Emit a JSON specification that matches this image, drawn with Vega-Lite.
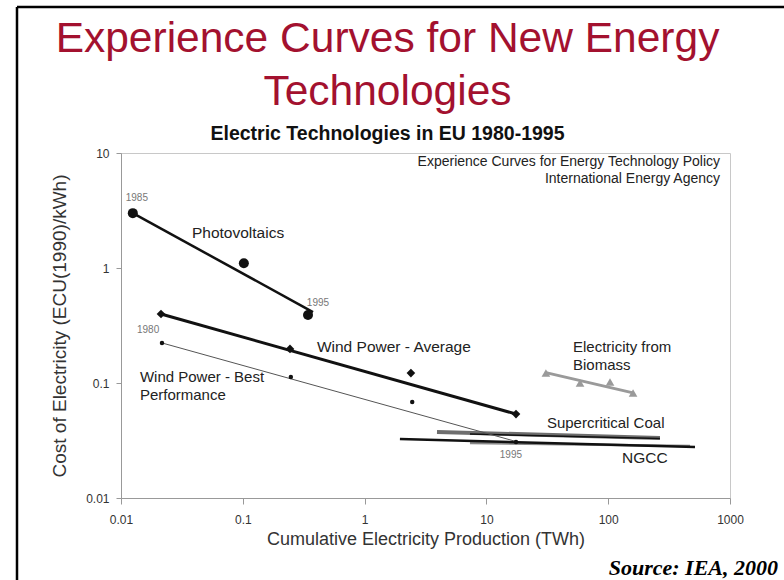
{
  "$schema": "https://vega.github.io/schema/vega-lite/v6.json",
  "width": 609,
  "height": 345,
  "autosize": {"type": "none"},
  "padding": {"left": 121, "top": 153, "right": 54, "bottom": 82},
  "background": "white",
  "view": {"stroke": "#c8c8c8", "strokeWidth": 1},
  "title": {
    "text": ["Experience Curves for New Energy", "Technologies"],
    "subtitle": "Electric Technologies in EU 1980-1995",
    "anchor": "middle",
    "frame": "group",
    "dx": -38,
    "dy": 141.5,
    "offset": 4,
    "font": "Liberation Sans",
    "fontSize": 42.5,
    "fontWeight": "normal",
    "color": "#a3112f",
    "lineHeight": 53,
    "subtitleFont": "Liberation Sans",
    "subtitleFontSize": 19.5,
    "subtitleFontWeight": "bold",
    "subtitleColor": "#111111",
    "subtitlePadding": 11
  },
  "datasets": {
    "points": [
      {"series": "Photovoltaics", "x": 0.0125, "y": 3.0},
      {"series": "Photovoltaics", "x": 0.102, "y": 1.1},
      {"series": "Photovoltaics", "x": 0.343, "y": 0.39},
      {"series": "Wind Average", "x": 0.0213, "y": 0.398},
      {"series": "Wind Average", "x": 0.244, "y": 0.198},
      {"series": "Wind Average", "x": 2.4, "y": 0.122},
      {"series": "Wind Average", "x": 17.5, "y": 0.0537},
      {"series": "Wind Best", "x": 0.0217, "y": 0.223},
      {"series": "Wind Best", "x": 0.248, "y": 0.113},
      {"series": "Wind Best", "x": 2.46, "y": 0.0684},
      {"series": "Wind Best", "x": 17.5, "y": 0.0307},
      {"series": "Biomass", "x": 30.8, "y": 0.122},
      {"series": "Biomass", "x": 58.7, "y": 0.1},
      {"series": "Biomass", "x": 103.5, "y": 0.102},
      {"series": "Biomass", "x": 160, "y": 0.0818}
    ],
    "trends": [
      {"series": "Coal band", "x": 3.93, "y": 0.0375},
      {"series": "Coal band", "x": 266, "y": 0.0333},
      {"series": "NGCC band", "x": 7.33, "y": 0.0301},
      {"series": "NGCC band", "x": 470, "y": 0.0283},
      {"series": "Coal line", "x": 7.33, "y": 0.036},
      {"series": "Coal line", "x": 266, "y": 0.0329},
      {"series": "NGCC line", "x": 1.95, "y": 0.0326},
      {"series": "NGCC line", "x": 516, "y": 0.0278},
      {"series": "Wind Best", "x": 0.0217, "y": 0.223},
      {"series": "Wind Best", "x": 17.5, "y": 0.031},
      {"series": "Biomass", "x": 30.8, "y": 0.123},
      {"series": "Biomass", "x": 160, "y": 0.082},
      {"series": "Photovoltaics", "x": 0.0125, "y": 3.0},
      {"series": "Photovoltaics", "x": 0.377, "y": 0.414},
      {"series": "Wind Average", "x": 0.0213, "y": 0.398},
      {"series": "Wind Average", "x": 17.5, "y": 0.0537}
    ],
    "labels": [
      {"kind": "name", "text": "Photovoltaics", "x": 0.0914, "y": 2.01},
      {"kind": "name", "text": "Wind Power - Average", "x": 1.74, "y": 0.2056},
      {"kind": "name", "text": "NGCC", "x": 200, "y": 0.0223},
      {"kind": "left", "text": "Wind Power - Best\nPerformance", "x": 0.0143, "y": 0.1127},
      {"kind": "left", "text": "Electricity from\nBiomass", "x": 51.4, "y": 0.2056},
      {"kind": "left", "text": "Supercritical Coal", "x": 31.4, "y": 0.0449},
      {"kind": "year", "text": "1985", "x": 0.0135, "y": 4.06},
      {"kind": "year", "text": "1995", "x": 0.414, "y": 0.496},
      {"kind": "year", "text": "1980", "x": 0.0167, "y": 0.289},
      {"kind": "year", "text": "1995", "x": 15.9, "y": 0.0237},
      {"kind": "note", "text": "Experience Curves for Energy Technology Policy\nInternational Energy Agency", "x": 828, "y": 8.4},
      {"kind": "source", "text": "Source: IEA, 2000", "x": 2477, "y": 0.00215}
    ]
  },
  "layer": [
    {
      "data": {"values": [{"edge": "left"}]},
      "mark": {"type": "rule", "color": "black", "strokeWidth": 2.5, "clip": false},
      "encoding": {
        "x": {"datum": 0.0014, "type": "quantitative", "scale": {"type": "log", "domain": [0.01, 1000], "nice": false}},
        "y": {"datum": 186, "type": "quantitative", "scale": {"type": "log", "domain": [0.01, 10], "nice": false}},
        "y2": {"datum": 0.0000001}
      }
    },
    {
      "data": {"values": [{"edge": "top"}]},
      "mark": {"type": "rule", "color": "black", "strokeWidth": 2.5, "clip": false},
      "encoding": {
        "y": {"datum": 186, "type": "quantitative"},
        "x": {"datum": 0.0014, "type": "quantitative"},
        "x2": {"datum": 10000000}
      }
    },
    {
      "encoding": {
        "x": {
          "field": "x", "type": "quantitative",
          "scale": {"type": "log", "domain": [0.01, 1000], "nice": false},
          "axis": {
            "values": [0.01, 0.1, 1, 10, 100, 1000], "format": "~g", "grid": false,
            "labelFlush": false, "labelOverlap": false,
            "domainColor": "#999999", "tickColor": "#999999", "tickSize": 6,
            "labelFont": "Liberation Sans", "labelFontSize": 12, "labelColor": "#333333", "labelPadding": 10,
            "title": "Cumulative Electricity Production (TWh)",
            "titleFont": "Liberation Sans", "titleFontSize": 18, "titleFontWeight": "normal", "titleColor": "#333333", "titlePadding": 5
          }
        },
        "y": {
          "field": "y", "type": "quantitative",
          "scale": {"type": "log", "domain": [0.01, 10], "nice": false},
          "axis": {
            "values": [0.01, 0.1, 1, 10], "format": "~g", "grid": false,
            "labelFlush": false, "labelOverlap": false,
            "domainColor": "#999999", "tickColor": "#999999", "tickSize": 5,
            "labelFont": "Liberation Sans", "labelFontSize": 12, "labelColor": "#333333", "labelPadding": 7,
            "title": "Cost of Electricity (ECU(1990)/kWh)",
            "titleFont": "Liberation Sans", "titleFontSize": 19, "titleFontWeight": "normal", "titleColor": "#333333", "titlePadding": 16
          }
        }
      },
      "layer": [
        {
          "data": {"name": "trends"},
          "transform": [{"filter": "datum.series === 'Coal band'"}],
          "mark": {"type": "line", "color": "#6e6e6e", "strokeWidth": 4, "strokeCap": "butt"},
          "encoding": {}
        },
        {
          "data": {"name": "trends"},
          "transform": [{"filter": "datum.series === 'NGCC band'"}],
          "mark": {"type": "line", "color": "#888888", "strokeWidth": 2.5, "strokeCap": "butt"},
          "encoding": {}
        },
        {
          "data": {"name": "trends"},
          "transform": [{"filter": "datum.series === 'Coal line'"}],
          "mark": {"type": "line", "color": "#111111", "strokeWidth": 1.5, "strokeCap": "butt"},
          "encoding": {}
        },
        {
          "data": {"name": "trends"},
          "transform": [{"filter": "datum.series === 'NGCC line'"}],
          "mark": {"type": "line", "color": "#111111", "strokeWidth": 2.5, "strokeCap": "butt"},
          "encoding": {}
        },
        {
          "data": {"name": "trends"},
          "transform": [{"filter": "datum.series === 'Wind Best'"}],
          "mark": {"type": "line", "color": "#555555", "strokeWidth": 1},
          "encoding": {}
        },
        {
          "data": {"name": "trends"},
          "transform": [{"filter": "datum.series === 'Biomass'"}],
          "mark": {"type": "line", "color": "#9a9a9a", "strokeWidth": 3},
          "encoding": {}
        },
        {
          "data": {"name": "trends"},
          "transform": [{"filter": "datum.series === 'Photovoltaics'"}],
          "mark": {"type": "line", "color": "#111111", "strokeWidth": 2.5},
          "encoding": {}
        },
        {
          "data": {"name": "trends"},
          "transform": [{"filter": "datum.series === 'Wind Average'"}],
          "mark": {"type": "line", "color": "#111111", "strokeWidth": 3},
          "encoding": {}
        },
        {
          "data": {"name": "points"},
          "transform": [{"filter": "datum.series === 'Photovoltaics'"}],
          "mark": {"type": "point", "shape": "circle", "filled": true, "opacity": 1, "color": "#111111", "size": 100},
          "encoding": {}
        },
        {
          "data": {"name": "points"},
          "transform": [{"filter": "datum.series === 'Wind Average'"}],
          "mark": {"type": "point", "shape": "diamond", "filled": true, "opacity": 1, "color": "#111111", "size": 75},
          "encoding": {}
        },
        {
          "data": {"name": "points"},
          "transform": [{"filter": "datum.series === 'Wind Best'"}],
          "mark": {"type": "point", "shape": "circle", "filled": true, "opacity": 1, "color": "#111111", "size": 20},
          "encoding": {}
        },
        {
          "data": {"name": "points"},
          "transform": [{"filter": "datum.series === 'Biomass'"}],
          "mark": {"type": "point", "shape": "triangle-up", "filled": true, "opacity": 1, "color": "#9a9a9a", "size": 75},
          "encoding": {}
        },
        {
          "data": {"name": "labels"},
          "transform": [{"filter": "datum.kind === 'name'"}],
          "mark": {"type": "text", "font": "Liberation Sans", "fontSize": 15.5, "color": "#222222", "align": "center", "baseline": "middle"},
          "encoding": {"text": {"field": "text"}}
        },
        {
          "data": {"name": "labels"},
          "transform": [{"filter": "datum.kind === 'left'"}],
          "mark": {"type": "text", "font": "Liberation Sans", "fontSize": 15, "color": "#222222", "align": "left", "baseline": "middle", "lineBreak": "\n", "lineHeight": 18},
          "encoding": {"text": {"field": "text"}}
        },
        {
          "data": {"name": "labels"},
          "transform": [{"filter": "datum.kind === 'year'"}],
          "mark": {"type": "text", "font": "Liberation Sans", "fontSize": 10, "color": "#777777", "align": "center", "baseline": "middle"},
          "encoding": {"text": {"field": "text"}}
        },
        {
          "data": {"name": "labels"},
          "transform": [{"filter": "datum.kind === 'note'"}],
          "mark": {"type": "text", "font": "Liberation Sans", "fontSize": 14, "color": "#222222", "align": "right", "baseline": "middle", "lineBreak": "\n", "lineHeight": 17},
          "encoding": {"text": {"field": "text"}}
        },
        {
          "data": {"name": "labels"},
          "transform": [{"filter": "datum.kind === 'source'"}],
          "mark": {"type": "text", "font": "Liberation Serif", "fontSize": 22, "fontWeight": "bold", "fontStyle": "italic", "color": "#000000", "align": "right", "baseline": "alphabetic"},
          "encoding": {"text": {"field": "text"}}
        }
      ]
    }
  ]
}
